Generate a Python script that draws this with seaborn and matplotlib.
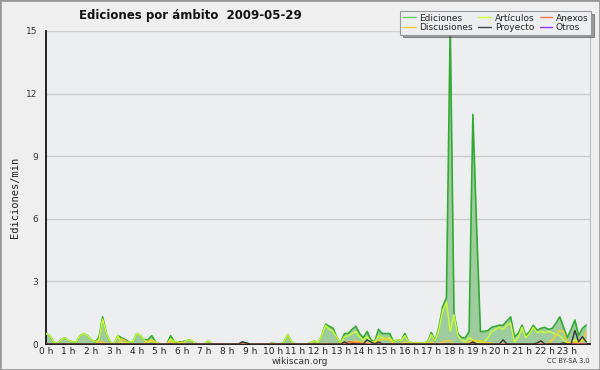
import numpy as np
import seaborn as sns
import matplotlib
matplotlib.use("Agg")
import matplotlib.pyplot as plt
from matplotlib.lines import Line2D
from matplotlib.patches import Rectangle
from matplotlib.ticker import MultipleLocator

#-----------------------------------------------------------------------------------------
#----------------------------------- DATOS (ediciones/min, cada 10 min) ------------------
#-----------------------------------------------------------------------------------------

hour_labels = [f"{h} h" for h in range(24)]

ediciones = [
    0.5, 0.4, 0.1, 0.0, 0.2, 0.3, 0.15, 0.1, 0.1, 0.4,
    0.5, 0.4, 0.2, 0.1, 0.3, 1.3, 0.5, 0.1, 0.0, 0.4,
    0.3, 0.2, 0.1, 0.1, 0.5, 0.4, 0.2, 0.2, 0.4, 0.1,
    0, 0, 0, 0.4, 0.1, 0.1, 0.1, 0.15, 0.2, 0.1,
    0, 0, 0, 0.15, 0, 0, 0, 0, 0, 0,
    0, 0, 0.1, 0.05, 0, 0, 0, 0, 0, 0,
    0.05, 0, 0, 0.1, 0.45, 0.1, 0, 0, 0, 0,
    0.05, 0.15, 0.05, 0.4, 0.95, 0.85, 0.75, 0.3, 0.05, 0.5,
    0.5, 0.7, 0.85, 0.5, 0.3, 0.6, 0.2, 0.1, 0.7, 0.5,
    0.5, 0.5, 0.1, 0.2, 0.15, 0.5, 0.1, 0.05, 0.05, 0.05,
    0.05, 0.1, 0.55, 0.15, 0.8, 1.8, 2.2, 15.3, 1.5, 0.5,
    0.3, 0.3, 0.6, 11.0, 5.5, 0.6, 0.6, 0.65, 0.8, 0.85,
    0.9, 0.9, 1.1, 1.3, 0.35, 0.5, 0.9, 0.4, 0.6, 0.9,
    0.65, 0.75, 0.8, 0.7, 0.75, 1.0, 1.3, 0.8, 0.3, 0.7,
    1.15, 0.4, 0.75, 0.9,
]

articulos = [
    0.5, 0.4, 0.1, 0.0, 0.2, 0.3, 0.15, 0.1, 0.1, 0.4,
    0.5, 0.4, 0.2, 0.1, 0.2, 1.2, 0.5, 0.1, 0.0, 0.4,
    0.05, 0.05, 0.1, 0.1, 0.5, 0.4, 0.2, 0.05, 0.2, 0.1,
    0, 0, 0, 0.25, 0.1, 0.1, 0, 0.15, 0.2, 0.1,
    0, 0, 0, 0.15, 0, 0, 0, 0, 0, 0,
    0, 0, 0, 0, 0, 0, 0, 0, 0, 0,
    0.05, 0, 0, 0.1, 0.45, 0.1, 0, 0, 0, 0,
    0.05, 0.15, 0.05, 0.4, 0.9, 0.7, 0.6, 0.3, 0.05, 0.35,
    0.4, 0.5, 0.6, 0.35, 0.2, 0.35, 0.1, 0.1, 0.4, 0.3,
    0.25, 0.3, 0.1, 0.2, 0.15, 0.4, 0.1, 0.05, 0.05, 0.05,
    0.05, 0.1, 0.45, 0.15, 0.7, 1.6, 2.0, 0.6, 1.4, 0.4,
    0.2, 0.1, 0.3, 0.2, 0.1, 0.1, 0.1, 0.3, 0.6, 0.7,
    0.8, 0.7, 0.9, 1.0, 0.1, 0.3, 0.8, 0.3, 0.5, 0.8,
    0.55, 0.6, 0.55, 0.6, 0.55, 0.45, 0.4, 0.2, 0.05, 0.05,
    0.2, 0.1, 0.2, 0.2,
]

discusiones = [
    0, 0, 0, 0, 0, 0, 0, 0, 0, 0,
    0, 0, 0, 0, 0.1, 0.1, 0, 0, 0, 0,
    0.25, 0.15, 0, 0, 0, 0, 0, 0.15, 0.2, 0,
    0, 0, 0, 0.15, 0, 0, 0.1, 0, 0, 0,
    0, 0, 0, 0, 0, 0, 0, 0, 0, 0,
    0, 0, 0, 0, 0, 0, 0, 0, 0, 0,
    0, 0, 0, 0, 0, 0, 0, 0, 0, 0,
    0, 0, 0, 0, 0.05, 0, 0, 0, 0, 0,
    0, 0.1, 0.15, 0.1, 0.1, 0.05, 0, 0, 0.2, 0.2,
    0.25, 0.2, 0, 0, 0, 0.1, 0, 0, 0, 0,
    0, 0, 0.1, 0, 0, 0.1, 0.15, 0.15, 0, 0,
    0, 0, 0.1, 0.15, 0.15, 0.15, 0.05, 0.05, 0.05, 0,
    0, 0, 0, 0, 0, 0, 0, 0, 0, 0,
    0, 0, 0, 0.05, 0.2, 0.4, 0.65, 0.6, 0.05, 0.1,
    0.1, 0.05, 0.15, 0.6,
]

proyecto = [
    0, 0, 0, 0, 0, 0, 0, 0, 0, 0,
    0, 0, 0, 0, 0, 0, 0, 0, 0, 0,
    0, 0, 0, 0, 0, 0, 0, 0, 0, 0,
    0, 0, 0, 0, 0, 0, 0, 0, 0, 0,
    0, 0, 0, 0, 0, 0, 0, 0, 0, 0,
    0, 0, 0.1, 0.05, 0, 0, 0, 0, 0, 0,
    0, 0, 0, 0, 0, 0, 0, 0, 0, 0,
    0, 0, 0, 0, 0, 0, 0, 0, 0, 0.1,
    0, 0, 0, 0, 0, 0.2, 0.1, 0, 0.1, 0,
    0, 0, 0, 0, 0, 0, 0, 0, 0, 0,
    0, 0, 0, 0, 0, 0, 0, 0, 0, 0,
    0, 0, 0, 0.1, 0, 0, 0, 0, 0, 0,
    0, 0.2, 0, 0, 0, 0, 0, 0, 0, 0,
    0.05, 0.15, 0, 0, 0, 0, 0, 0.05, 0, 0,
    0.65, 0.1, 0.35, 0.1,
]

anexos = [0.0] * 144
for i, v in zip([80, 81, 82, 83], [0.1, 0.1, 0.05, 0.05]):
    anexos[i] = v

otros = [0.0] * 144

horas = np.arange(len(ediciones)) / 6.0

#-----------------------------------------------------------------------------------------
#----------------------------------- GRAFICO ---------------------------------------------
#-----------------------------------------------------------------------------------------

sns.set_style("white", {"axes.facecolor": "#edeef0"})
plt.rcParams["font.family"] = ["DejaVu Sans"]

fig = plt.figure(figsize=(6, 3.7), dpi=100, facecolor="#efefef")
ax = fig.add_axes([46 / 600, 1 - 344 / 370, 544 / 600, 313 / 370])

ax.fill_between(horas, ediciones, color="#9fcc9f", linewidth=0, zorder=2)
sns.lineplot(x=horas, y=ediciones, ax=ax, color="#33aa33", linewidth=1.2, zorder=3)
sns.lineplot(x=horas, y=articulos, ax=ax, color="#ccff33", linewidth=1.0, zorder=4)
sns.lineplot(x=horas, y=discusiones, ax=ax, color="#ffcc22", linewidth=1.0, zorder=4)
sns.lineplot(x=horas, y=anexos, ax=ax, color="#ff6633", linewidth=1.0, zorder=4)
sns.lineplot(x=horas, y=otros, ax=ax, color="#9933ff", linewidth=1.0, zorder=4)
sns.lineplot(x=horas, y=proyecto, ax=ax, color="#333333", linewidth=1.0, zorder=5)

ax.set_xlim(0, 24)
ax.set_ylim(0, 15)
ax.set_yticks([0, 3, 6, 9, 12, 15])
ax.yaxis.set_minor_locator(MultipleLocator(0.75))
ax.set_xticks(range(24))
ax.set_xticklabels(hour_labels)
ax.xaxis.set_minor_locator(MultipleLocator(1 / 6))
ax.grid(axis="y", color="#cccccc", linewidth=1, zorder=1)
ax.set_axisbelow(True)

ax.tick_params(axis="y", which="major", direction="out", length=5, width=1,
               color="black", labelsize=6.5, labelcolor="#333333", pad=1)
ax.tick_params(axis="y", which="minor", direction="out", length=3, width=1, color="black")
ax.tick_params(axis="x", which="major", direction="out", length=5, width=1,
               color="black", labelsize=6.5, labelcolor="#222222", pad=-3)
ax.tick_params(axis="x", which="minor", direction="out", length=4, width=1, color="black")

ax.spines["top"].set_visible(False)
ax.spines["right"].set_color("#bbbbbb")
ax.spines["left"].set_color("black")
ax.spines["bottom"].set_color("black")
ax.spines["left"].set_linewidth(1.2)
ax.spines["bottom"].set_linewidth(1.2)

ax.set_xlabel("")
ax.set_ylabel("")
fig.text(15 / 600, 1 - 197 / 370, "Ediciones/min", rotation=90, ha="center", va="center",
         fontsize=7.5, family="DejaVu Sans Mono", color="#222222")

fig.text(0.317, 0.958, "Ediciones por ámbito  2009-05-29", ha="center", va="center",
         fontsize=8.5, weight="bold", color="#111111")
fig.text(0.5, 1 - 361 / 370, "wikiscan.org", ha="center", va="center", fontsize=6.5,
         color="#333333")
fig.text(0.983, 1 - 361 / 370, "CC BY-SA 3.0", ha="right", va="center", fontsize=4.8,
         color="#333333")

handles = [
    Line2D([], [], color="#66cc66", lw=1, label="Ediciones"),
    Line2D([], [], color="#ffcc33", lw=1, label="Discusiones"),
    Line2D([], [], color="#ccff33", lw=1, label="Artículos"),
    Line2D([], [], color="#444444", lw=1, label="Proyecto"),
    Line2D([], [], color="#ff7744", lw=1, label="Anexos"),
    Line2D([], [], color="#9933ff", lw=1, label="Otros"),
]
leg = fig.legend(handles=handles, ncol=3, loc="upper right", bbox_to_anchor=(0.993, 0.983),
                 fontsize=6.5, frameon=True, fancybox=False, shadow=True, framealpha=1,
                 edgecolor="#999999", handlelength=1.4, handletextpad=0.4,
                 columnspacing=0.6, labelspacing=0.05, borderpad=0.3)
leg.get_frame().set_linewidth(0.8)

fig.patches.append(Rectangle((0, 0), 1, 1, transform=fig.transFigure, fill=False,
                             edgecolor="#999999", linewidth=2))

fig.savefig("out.png", dpi=100, facecolor=fig.get_facecolor())
